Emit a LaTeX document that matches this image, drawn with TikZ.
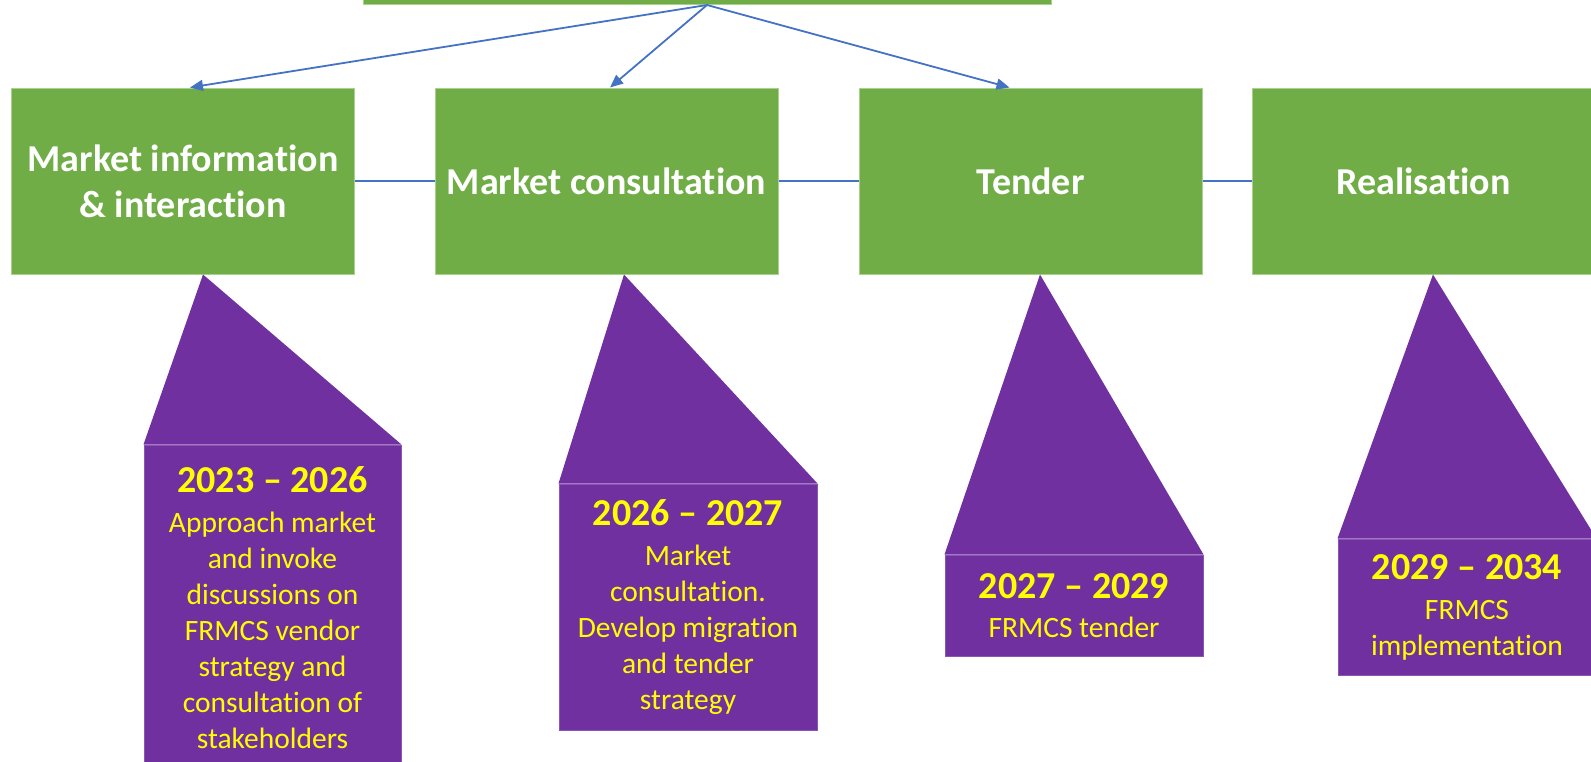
\documentclass[tikz,border=0pt]{standalone}
\usepackage{fontspec}
\setmainfont{Carlito}[Ligatures={TeX,NoCommon}]
\usepackage{tikz}
\usetikzlibrary{calc,arrows.meta}
\definecolor{grn}{HTML}{70AD47}
\definecolor{grnline}{HTML}{A9D18E}
\definecolor{purp}{HTML}{7030A0}
\definecolor{purpline}{HTML}{8A55B5}
\definecolor{yel}{HTML}{FFFF00}
\definecolor{blu}{HTML}{4472C4}
\newcommand{\yr}[1]{{\fontsize{38}{44}\selectfont\bfseries #1}}
\tikzset{
  phase/.style={fill=grn, draw=grnline, line width=1pt, minimum width=343pt, minimum height=186pt, text=white, align=center, font=\fontsize{38}{46}\selectfont\bfseries},
  call/.style={fill=purp, draw=purpline, line width=1pt, minimum width=258pt, text=yel, align=center, font=\fontsize{29.5}{36}\selectfont},
  link/.style={draw=blu, line width=1.5pt},
  flow/.style={draw=blu, line width=1.8pt, -{Triangle[length=13pt,width=11pt]}},
}

\begin{document}
\begin{tikzpicture}[x=1pt, y=-1pt]
  \useasboundingbox (0,0) rectangle (1591,761);
  \clip (0,0) rectangle (1591,761);
  \node[phase, minimum width=688pt, minimum height=80pt, anchor=south] (top) at (707,5) {}; % cut off
  \node[phase] (b1) at (183,181) {Market information\\\& interaction};
  \node[phase] (b2) at (606.5,181) {Market consultation};
  \node[phase] (b3) at (1030.5,181) {Tender};
  \node[phase] (b4) at (1423.5,181) {Realisation};
  \draw[link] (b1.east) -- (b2.west);
  \draw[link] (b2.east) -- (b3.west);
  \draw[link] (b3.east) -- (b4.west);
  \draw[flow] (top.south) -- ($(b1.north)+(7,0)$);
  \draw[flow] (top.south) -- ($(b2.north)+(3.5,0)$);
  \draw[flow] (top.south) -- ($(b3.north)+(-21,0)$);
  % callouts
  \coordinate (p1) at ($(b1.south)+(20,0)$);
  \coordinate (p2) at ($(b2.south)+(17.5,0)$);
  \coordinate (p3) at ($(b3.south)+(9.5,0)$);
  \coordinate (p4) at ($(b4.south)+(9.5,0)$);
  \node[call, minimum width=257pt, minimum height=325pt] (c1) at (272.5,607.5) {\yr{2023 – 2026}\\[4pt]Approach market\\and invoke\\discussions on\\FRMCS vendor\\strategy and\\consultation of\\stakeholders};
  \node[call, minimum height=246pt] (c2) at (688,607) {\yr{2026 – 2027}\\[4pt]Market\\consultation.\\Develop migration\\and tender\\strategy};
  \node[call, minimum height=101pt] (c3) at (1074,605.5) {\yr{2027 – 2029}\\[3pt]FRMCS tender};
  \node[call, minimum height=136pt] (c4) at (1467,607) {\yr{2029 – 2034}\\[4pt]FRMCS\\implementation};
  \fill[purp] (p1) -- (c1.north east) -- (c1.north west) -- cycle;
  \fill[purp] (p2) -- (c2.north east) -- (c2.north west) -- cycle;
  \fill[purp] (p3) -- (c3.north east) -- (c3.north west) -- cycle;
  \fill[purp] (p4) -- (c4.north east) -- (c4.north west) -- cycle;
\end{tikzpicture}
\end{document}
